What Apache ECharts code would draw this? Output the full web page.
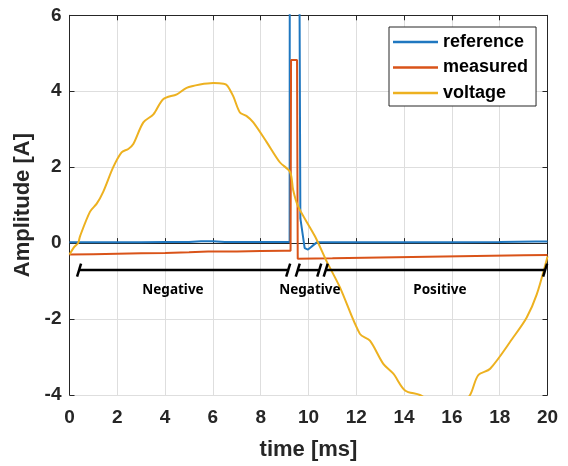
<!DOCTYPE html>
<html>
<head>
<meta charset="utf-8">
<script src="https://cdn.jsdelivr.net/npm/echarts@6/dist/echarts.min.js"></script>
<style>html,body{margin:0;padding:0;background:#fff}#c{width:568px;height:466px}</style>
</head>
<body>
<div id="c"></div>
<script>
// ---- data ----
var xTicks = [0, 2, 4, 6, 8, 10, 12, 14, 16, 18, 20];
var yTicks = [-4, -2, 0, 2, 4, 6];
var seriesNames = ['reference', 'measured', 'voltage'];

var referenceData = [
  [0, 0.02], [1, 0.02], [2, 0.02], [3, 0.02], [4, 0.03], [5, 0.03], [5.5, 0.05], [6, 0.05],
  [6.5, 0.03], [7, 0.03], [8, 0.03], [9, 0.03], [9.21, 0.03], [9.22, 12], [9.59, 12],
  [9.66, 0.65], [9.84, -0.13], [9.98, -0.17], [10.15, -0.08], [10.35, 0.02], [10.5, 0.02],
  [12, 0.02], [14, 0.02], [16, 0.02], [18, 0.03], [19.5, 0.04], [20, 0.04]
];
var measuredData = [
  [0, -0.3], [1, -0.29], [2, -0.28], [3, -0.27], [4, -0.26], [5, -0.24], [5.8, -0.22],
  [7, -0.22], [8, -0.21], [9, -0.2], [9.25, -0.2], [9.27, 4.82], [9.52, 4.82], [9.55, -0.41],
  [11, -0.4], [13, -0.38], [15, -0.36], [17, -0.34], [19, -0.32], [20, -0.31]
];
var voltageData = [
  [0, -0.3], [0.2, -0.1], [0.36, 0.0], [0.44, 0.18], [0.86, 0.83], [1.14, 1.04], [1.41, 1.35],
  [1.83, 2.0], [2.18, 2.39], [2.46, 2.48], [2.67, 2.61], [3.09, 3.18], [3.51, 3.39],
  [3.92, 3.79], [4.49, 3.92], [4.9, 4.09], [5.46, 4.18], [6.02, 4.22], [6.45, 4.2],
  [6.6, 4.15], [6.85, 3.87], [7.13, 3.44], [7.4, 3.35], [7.69, 3.18], [8.25, 2.66],
  [8.8, 2.13], [9.23, 1.87], [9.36, 1.39], [9.57, 0.96], [10.27, 0.18], [10.76, -0.48],
  [11.32, -1.17], [12.15, -2.39], [12.57, -2.57], [13.13, -3.18], [13.55, -3.44],
  [14.04, -3.88], [14.66, -4.0], [15.2, -4.2], [15.8, -4.35], [16.4, -4.2], [16.76, -4.0],
  [17.1, -3.48], [17.6, -3.31], [18.57, -2.48], [19.13, -1.96], [19.55, -1.35],
  [19.97, -0.43], [20, -0.35]
];
// bracket segments: [start, end, level]
var bracketSegments = [[0.4, 9.15, -0.71], [9.55, 10.45, -0.71], [10.72, 19.9, -0.71]];
// bracket labels: [x, y, text]
var bracketLabels = [[4.33, -1.25, 'Negative'], [10.06, -1.25, 'Negative'], [15.5, -1.25, 'Positive']];

// ---- chart ----
var FONT = '"Liberation Sans", Arial, sans-serif';
var chart = echarts.init(document.getElementById('c'), null, {renderer: 'canvas'});
var axisColor = '#262626';

var option = {
  animation: false,
  backgroundColor: '#fff',
  grid: {left: 69.5, right: 20.5, top: 15.3, bottom: 67.7, containLabel: false},
  legend: {
    data: seriesNames,
    orient: 'vertical',
    left: 389, top: 27,
    padding: [6, 8, 4, 4],
    itemGap: 7.5,
    icon: 'rect',
    itemWidth: 45, itemHeight: 2.5,
    borderColor: '#262626', borderWidth: 1,
    backgroundColor: '#fff',
    textStyle: {fontFamily: FONT, fontWeight: 'bold', fontSize: 18, lineHeight: 18, color: '#000'}
  },
  xAxis: [{
    type: 'value', min: xTicks[0], max: xTicks[xTicks.length - 1], interval: 2,
    name: 'time [ms]', nameLocation: 'middle', nameGap: 44,
    nameTextStyle: {fontFamily: FONT, fontWeight: 'bold', fontSize: 22, color: axisColor},
    axisLine: {show: true, lineStyle: {color: axisColor, width: 1}},
    axisTick: {show: true, inside: true, length: 5, lineStyle: {color: axisColor}},
    axisLabel: {margin: 13, fontFamily: FONT, fontWeight: 'bold', fontSize: 19, color: axisColor},
    splitLine: {show: true, lineStyle: {color: '#dedede', width: 1}}
  }, {
    type: 'value', position: 'top', min: xTicks[0], max: xTicks[xTicks.length - 1], interval: 2,
    axisLine: {show: true, onZero: false, lineStyle: {color: axisColor, width: 1}},
    axisTick: {show: true, inside: true, length: 5, lineStyle: {color: axisColor}},
    axisLabel: {show: false}, splitLine: {show: false}
  }],
  yAxis: [{
    type: 'value', min: yTicks[0], max: yTicks[yTicks.length - 1], interval: 2,
    name: 'Amplitude [A]', nameLocation: 'middle', nameGap: 25,
    nameTextStyle: {fontFamily: FONT, fontWeight: 'bold', fontSize: 22, color: axisColor},
    axisLine: {show: true, onZero: false, lineStyle: {color: axisColor, width: 1}},
    axisTick: {show: true, inside: true, length: 5, lineStyle: {color: axisColor}},
    axisLabel: {margin: 8, fontFamily: FONT, fontWeight: 'bold', fontSize: 19, color: axisColor},
    splitLine: {show: true, lineStyle: {color: '#dedede', width: 1}}
  }, {
    type: 'value', position: 'right', min: yTicks[0], max: yTicks[yTicks.length - 1], interval: 2,
    axisLine: {show: true, onZero: false, lineStyle: {color: axisColor, width: 1}},
    axisTick: {show: true, inside: true, length: 5, lineStyle: {color: axisColor}},
    axisLabel: {show: false}, splitLine: {show: false}
  }],
  series: [
    {name: 'reference', type: 'line', data: referenceData, showSymbol: false, symbol: 'none',
     lineStyle: {color: '#1f77c0', width: 2}, itemStyle: {color: '#1f77c0'}, clip: true},
    {name: 'measured', type: 'line', data: measuredData, showSymbol: false, symbol: 'none',
     lineStyle: {color: '#D95319', width: 2}, itemStyle: {color: '#D95319'}, clip: true},
    {name: 'voltage', type: 'line', data: voltageData, showSymbol: false, symbol: 'none', smooth: 0.3,
     lineStyle: {color: '#EDB120', width: 2}, itemStyle: {color: '#EDB120'}, clip: true},
    {type: 'custom', data: bracketSegments, clip: false, z: 5,
     renderItem: function (params, api) {
       var p0 = api.coord([api.value(0), api.value(2)]);
       var p1 = api.coord([api.value(1), api.value(2)]);
       var st = {stroke: '#000', lineWidth: 2.5};
       return {type: 'group', children: [
         {type: 'line', shape: {x1: p0[0], y1: p0[1], x2: p1[0], y2: p1[1]}, style: st},
         {type: 'line', shape: {x1: p0[0] + 2, y1: p0[1] - 6.5, x2: p0[0] - 2, y2: p0[1] + 6.5}, style: st},
         {type: 'line', shape: {x1: p1[0] + 2, y1: p1[1] - 6.5, x2: p1[0] - 2, y2: p1[1] + 6.5}, style: st}
       ]};
     }},
    {type: 'custom', data: bracketLabels, clip: false, z: 5,
     renderItem: function (params, api) {
       var p = api.coord([api.value(0), api.value(1)]);
       return {type: 'text', x: p[0], y: p[1], style: {
         text: bracketLabels[params.dataIndex][2], align: 'center', verticalAlign: 'middle',
         font: 'bold 13.5px "Noto Sans", sans-serif', fill: '#000'}};
     }}
  ]
};
chart.setOption(option);
</script>
</body>
</html>
